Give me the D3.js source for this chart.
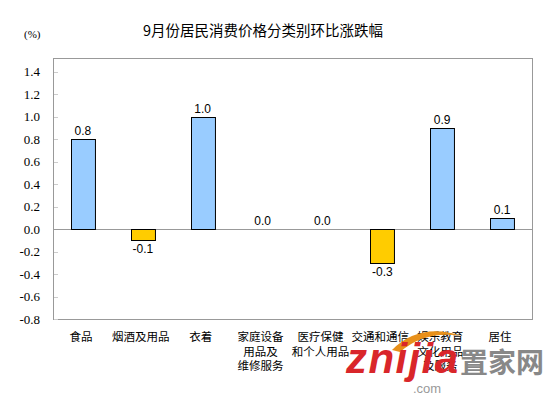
<!doctype html>
<html lang="zh">
<head>
<meta charset="utf-8">
<script src="https://d3js.org/d3.v7.min.js"></script>
<style>
  body { margin:0; background:#fff; }
  .title { font-family:"Noto Sans CJK SC", sans-serif; font-size:14.5px; fill:#000; text-anchor:middle; }
  .unit { font-family:"Liberation Serif", serif; font-size:11px; fill:#000; }
  .ytick text { font-family:"Liberation Serif", serif; font-size:13px; fill:#000; }
  .val { font-family:"Liberation Sans", Arial, sans-serif; font-size:12px; fill:#000; text-anchor:middle; }
  .xlab { font-family:"Noto Sans CJK SC", sans-serif; font-size:11.5px; fill:#000; text-anchor:middle; }
</style>
</head>
<body>
<div id="chart"></div>
<script>
  // categories (multi-line labels split on "|")
  let categories = ["食品", "烟酒及用品", "衣着", "家庭设备|用品及|维修服务", "医疗保健|和个人用品", "交通和通信", "娱乐教育|文化用品|及服务", "居住"];
  let values = [0.8, -0.1, 1.0, 0.0, 0.0, -0.3, 0.9, 0.1];
  let yTicks = [-0.8, -0.6, -0.4, -0.2, 0.0, 0.2, 0.4, 0.6, 0.8, 1.0, 1.2, 1.4];

  let W = 554, H = 398;
  let plot = {left:53, right:532, top:58, bottom:319};

  let svg = d3.select("#chart").append("svg")
      .attr("width", W).attr("height", H);

  let xScale = d3.scaleBand().domain(d3.range(categories.length))
      .range([plot.left, plot.right]).paddingInner(0.6).paddingOuter(0.3);
  let yScale = d3.scaleLinear().domain([-0.8, 1.52]).range([plot.bottom, plot.top]);

  svg.append("text").attr("class","title").attr("x", 263).attr("y", 36)
     .text("9月份居民消费价格分类别环比涨跌幅");
  svg.append("text").attr("class","unit").attr("x", 24).attr("y", 38).text("(%)");

  // plot frame
  svg.append("rect").attr("x", plot.left + 0.5).attr("y", plot.top + 0.5)
     .attr("width", plot.right - plot.left).attr("height", plot.bottom - plot.top)
     .attr("fill","none").attr("stroke","#999");

  // y axis labels and tiny inner ticks
  let yg = svg.append("g").attr("class","ytick");
  yg.selectAll("text").data(yTicks).enter().append("text")
    .attr("x", 40).attr("y", d => yScale(d) + 4.5)
    .attr("text-anchor","end")
    .text(d => d.toFixed(1));
  yg.selectAll("line").data(yTicks).enter().append("line")
    .attr("x1", plot.left + 1).attr("x2", plot.left + 5)
    .attr("y1", d => Math.round(yScale(d)) + 0.5).attr("y2", d => Math.round(yScale(d)) + 0.5)
    .attr("stroke","#ccc");

  // zero line
  svg.append("line").attr("x1", plot.left).attr("x2", plot.right)
     .attr("y1", Math.round(yScale(0)) + 0.5).attr("y2", Math.round(yScale(0)) + 0.5)
     .attr("stroke","#999");

  // bars
  svg.selectAll(".bar").data(values).enter().append("rect")
     .attr("class","bar")
     .attr("x", (d,i) => Math.round(xScale(i)) + 0.5)
     .attr("y", d => Math.round(yScale(Math.max(d,0))) + 0.5)
     .attr("width", xScale.bandwidth())
     .attr("height", d => Math.abs(Math.round(yScale(d)) - Math.round(yScale(0))))
     .attr("fill", d => d >= 0 ? "#99CCFF" : "#FFCC00")
     .attr("stroke", "#000")
     .attr("display", d => d === 0 ? "none" : null);

  // value labels
  svg.selectAll(".val").data(values).enter().append("text")
     .attr("class","val")
     .attr("x", (d,i) => xScale(i) + xScale.bandwidth()/2)
     .attr("y", d => d >= 0 ? yScale(d) - 4 : yScale(d) + 13)
     .text(d => d.toFixed(1));

  // x labels
  categories.forEach((c,i) => {
    let t = svg.append("text").attr("class","xlab")
       .attr("x", xScale(i) + xScale.bandwidth()/2 - 2).attr("y", 341);
    c.split("|").forEach((line,k) => {
      t.append("tspan").attr("x", xScale(i) + xScale.bandwidth()/2 - 2)
       .attr("dy", k === 0 ? 0 : 14.5).text(line);
    });
  });

  // watermark
  let wm = svg.append("g");
  wm.append("path").attr("d","M392,350 Q420,322 462,336 Q425,330 400,352 Z").attr("fill","#E8901A");
  wm.append("text").attr("x", 346).attr("y", 373)
    .attr("font-family","Liberation Sans, sans-serif").attr("font-weight","bold").attr("font-style","italic")
    .attr("font-size", 42).attr("fill","#D9262A").attr("textLength", 112).text("znijia");
  wm.append("text").attr("x", 460).attr("y", 373)
    .attr("font-family","Noto Sans CJK SC, sans-serif").attr("font-weight","bold")
    .attr("font-size", 28).attr("fill","#888").text("置家网");
  wm.append("text").attr("x", 413).attr("y", 393)
    .attr("font-family","Liberation Sans, sans-serif")
    .attr("font-size", 13).attr("fill","#999").text(".com");
</script>
</body>
</html>
